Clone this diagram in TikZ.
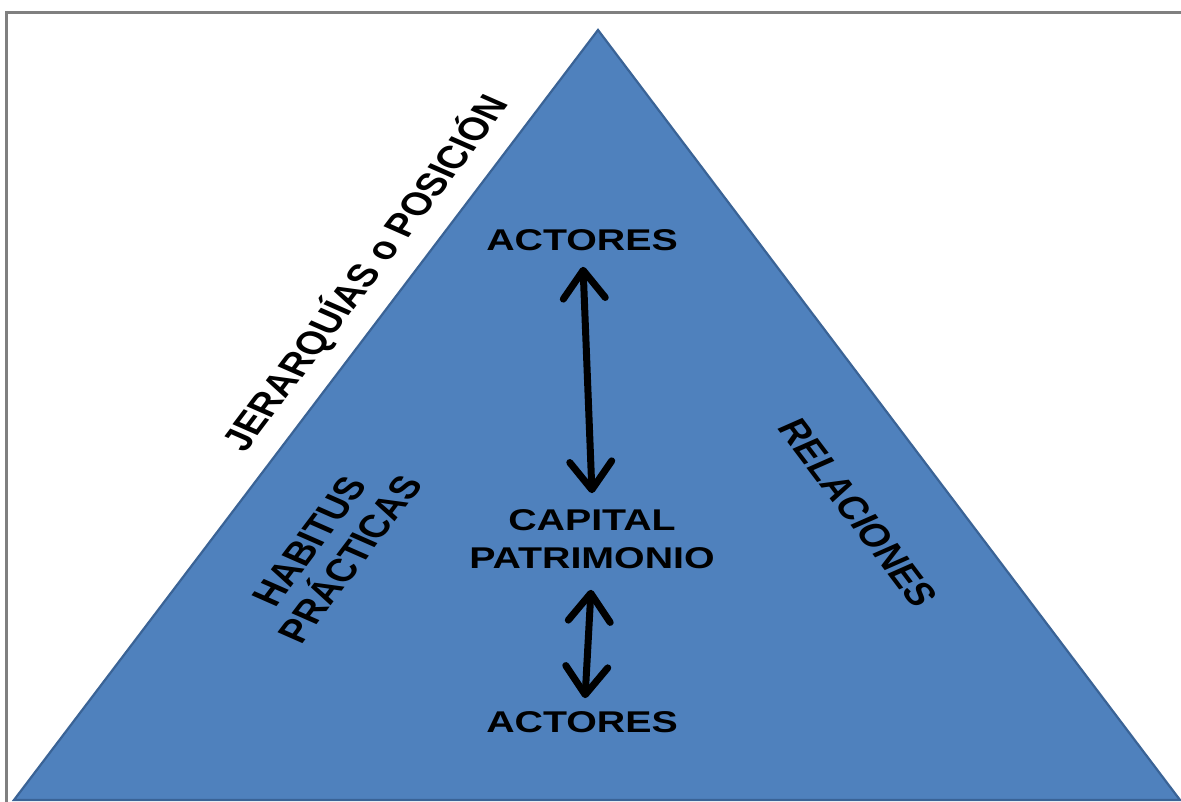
\documentclass[tikz,border=0pt]{standalone}
\usepackage{fontspec}
\setmainfont{Liberation Sans}
\usetikzlibrary{arrows.meta}
\definecolor{triblue}{HTML}{4F81BD}
\definecolor{triedge}{HTML}{3A6396}
\definecolor{framegray}{HTML}{808080}
\tikzset{
  lbl/.style={inner sep=0pt, text=black, font=\fontsize{30}{38}\selectfont\bfseries, align=center, transform shape},
  rlbl/.style={inner sep=0pt, text=black, font=\fontsize{32}{36}\selectfont\bfseries, align=center, transform shape},
  dblarrow/.style={line width=7pt, {Straight Barb[length=28pt,width=42pt,round]}-{Straight Barb[length=28pt,width=42pt,round]}},
  frameline/.style={draw=framegray},
  tri/.style={fill=triblue, draw=triedge, line width=2.2pt, line join=miter}
}
\begin{document}
\begin{tikzpicture}[x=1pt,y=1pt]
\useasboundingbox (0,0) rectangle (1181,802);
\fill[white] (0,0) rectangle (1181,802);
% frame
\draw[frameline, line width=3pt] (5,789.5) -- (1181,789.5);
\draw[frameline, line width=2.5pt] (6.5,791) -- (6.5,0);
% triangle
\coordinate (apex) at (598,772);
\coordinate (bl) at (14,2);
\coordinate (br) at (1180,2);
\draw[tri] (apex) -- (bl) -- (br) -- cycle;
% labels (drawn in an x-stretched frame)
\begin{scope}[xscale=1.31]
  \node[lbl] (a) at (444.3,562) {ACTORES};
  \node[lbl] (c) at (451.9,263) {CAPITAL\\PATRIMONIO};
  \node[lbl] (b) at (444.3,80) {ACTORES};
  \node[rlbl, rotate=60] (j) at (278.5,529) {JERARQUÍAS o POSICIÓN};
  \node[rlbl, rotate=60] (h) at (251.9,252) {HABITUS\\PRÁCTICAS};
  \node[rlbl, rotate=-60] (r) at (655,289) {RELACIONES};
\end{scope}
% arrows
\draw[dblarrow] ([shift={(1,-16)}]a.south) -- ([shift={(0,16)}]c.north);
\draw[dblarrow] ([shift={(-1,-21)}]c.south) -- ([shift={(3,13)}]b.north);
\end{tikzpicture}
\end{document}
